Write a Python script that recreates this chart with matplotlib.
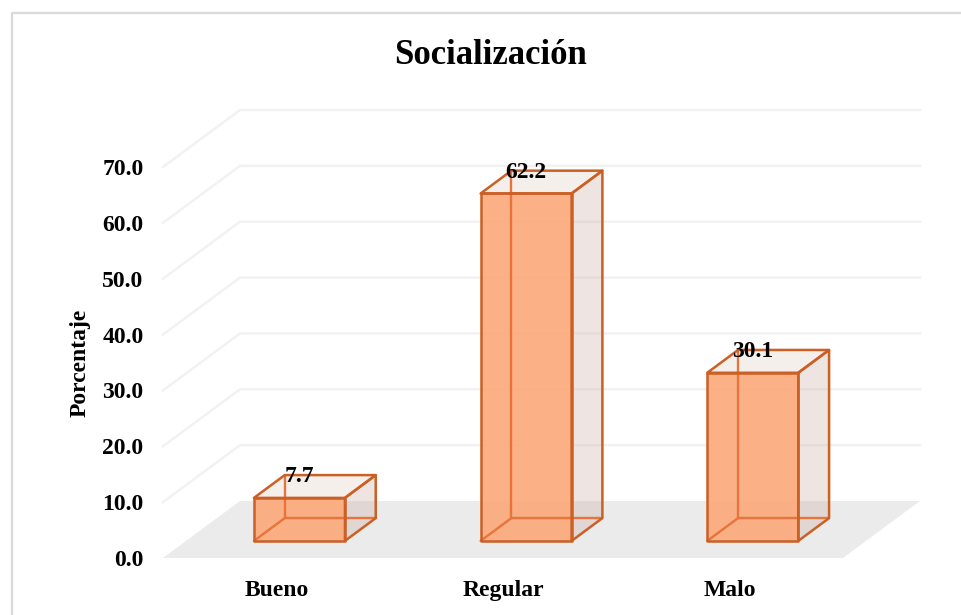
import matplotlib.pyplot as plt
from matplotlib.lines import Line2D
from matplotlib.patches import Polygon

categories = ["Bueno", "Regular", "Malo"]
values = [7.7, 62.2, 30.1]
y_ticks = [0, 10, 20, 30, 40, 50, 60, 70]
y_labels = ["0.0", "10.0", "20.0", "30.0", "40.0", "50.0", "60.0", "70.0"]

W, H = 961, 615
# front plane of the 3D box, in pixels
LEFT, RIGHT, BOTTOM, TOP = 163, 843, 558, 167
PX_X = (RIGHT - LEFT) / 3
PX_Y = (BOTTOM - TOP) / 70
# full depth of the floor, in data units
DX = 77 / PX_X
DY = 57 / PX_Y
D_FRONT = 0.30
D_BACK = 0.70
HALF = 45.5 / PX_X

EDGE = "#cb5f24"
FRONT = "#fca878"
GRID = "#f2f2f2"
FLOOR = "#ebebeb"


def proj(x, y, d):
    return (x + d * DX, y + d * DY)


def face(ax, pts, color, z, alpha=1.0):
    ax.add_patch(Polygon(pts, closed=True, facecolor=color, edgecolor="none",
                         alpha=alpha, zorder=z, clip_on=False))


def edges(ax, pts, color, lw, z):
    ax.add_patch(Polygon(pts, closed=True, facecolor="none", edgecolor=color,
                         linewidth=lw, zorder=z, clip_on=False, joinstyle="round"))


def draw_bar(ax, i, v):
    l, r = i - HALF, i + HALF
    # back and side faces first, they show through the front
    face(ax, [proj(r, 0, D_FRONT), proj(r, 0, D_BACK), proj(r, v, D_BACK), proj(r, v, D_FRONT)],
         "#c8a89c", 3, 0.3)
    face(ax, [proj(l, v, D_FRONT), proj(r, v, D_FRONT), proj(r, v, D_BACK), proj(l, v, D_BACK)],
         "#f5efeb", 3)
    face(ax, [proj(l, 0, D_FRONT), proj(r, 0, D_FRONT), proj(r, v, D_FRONT), proj(l, v, D_FRONT)],
         FRONT, 4, 0.9)
    # hidden edges, seen through the front face
    for a, b in [((l, 0, D_BACK), (r, 0, D_BACK)), ((l, 0, D_BACK), (l, v, D_BACK)),
                 ((l, 0, D_FRONT), (l, 0, D_BACK))]:
        pa, pb = proj(*a), proj(*b)
        ax.plot([pa[0], pb[0]], [pa[1], pb[1]], color="#e8743c", lw=1.7, zorder=5,
                clip_on=False, solid_capstyle="round")
    lw = 1.8
    edges(ax, [proj(l, 0, D_FRONT), proj(r, 0, D_FRONT), proj(r, v, D_FRONT), proj(l, v, D_FRONT)], EDGE, lw, 6)
    edges(ax, [proj(r, 0, D_FRONT), proj(r, 0, D_BACK), proj(r, v, D_BACK), proj(r, v, D_FRONT)], EDGE, lw, 6)
    edges(ax, [proj(l, v, D_FRONT), proj(r, v, D_FRONT), proj(r, v, D_BACK), proj(l, v, D_BACK)], EDGE, lw, 6)
    _, ty = proj(i, v, D_BACK)
    tx = i + D_FRONT * DX
    ax.annotate(f"{v:.1f}", (tx, ty), xytext=(0, -1), textcoords="offset points", ha="center", va="center",
                fontsize=17, fontweight="bold", color="black", zorder=8)


plt.rcParams["font.family"] = ["Liberation Serif", "DejaVu Serif"]
fig = plt.figure(figsize=(W / 100, H / 100), dpi=100)
# chart frame: only top and left edges are inside the crop
fig.add_artist(Line2D([11.5 / W, 11.5 / W, 1], [0, 1 - 13 / H, 1 - 13 / H], color="#d9d9d9", lw=1.6))

ax = fig.add_axes([LEFT / W, 1 - BOTTOM / H, (RIGHT - LEFT) / W, (BOTTOM - TOP) / H])
ax.set_xlim(-0.5, 2.5)
ax.set_ylim(0, 70)
ax.patch.set_visible(False)
for s in ax.spines.values():
    s.set_visible(False)

# floor
face(ax, [proj(-0.5, 0, 0), proj(2.5, 0, 0), proj(2.5, 0, 1), proj(-0.5, 0, 1)], FLOOR, 1)

# back wall and side wall gridlines
for t in y_ticks[1:]:
    x0, y0 = proj(-0.5, t, 0)
    x1, y1 = proj(-0.5, t, 1)
    x2, y2 = proj(2.5, t, 1)
    ax.plot([x0, x1, x2], [y0, y1, y2], color=GRID, lw=1.8, zorder=2, clip_on=False)

for i, v in enumerate(values):
    draw_bar(ax, i, v)

ax.set_yticks(y_ticks)
ax.set_yticklabels(y_labels, fontsize=17, fontweight="bold")
ax.set_xticks(range(len(categories)))
ax.set_xticklabels(categories, fontsize=17, fontweight="bold")
ax.tick_params(axis="both", length=0)
ax.tick_params(axis="y", pad=14)
ax.tick_params(axis="x", pad=15.5)

fig.text(80.5 / W, 1 - 363 / H, "Porcentaje", rotation=90, ha="center", va="center",
         fontsize=17, fontweight="bold")
fig.text(491 / W, 1 - 55.5 / H, "Socialización", ha="center", va="center",
         fontsize=25, fontweight="bold")

fig.savefig("out.png", dpi=100)
